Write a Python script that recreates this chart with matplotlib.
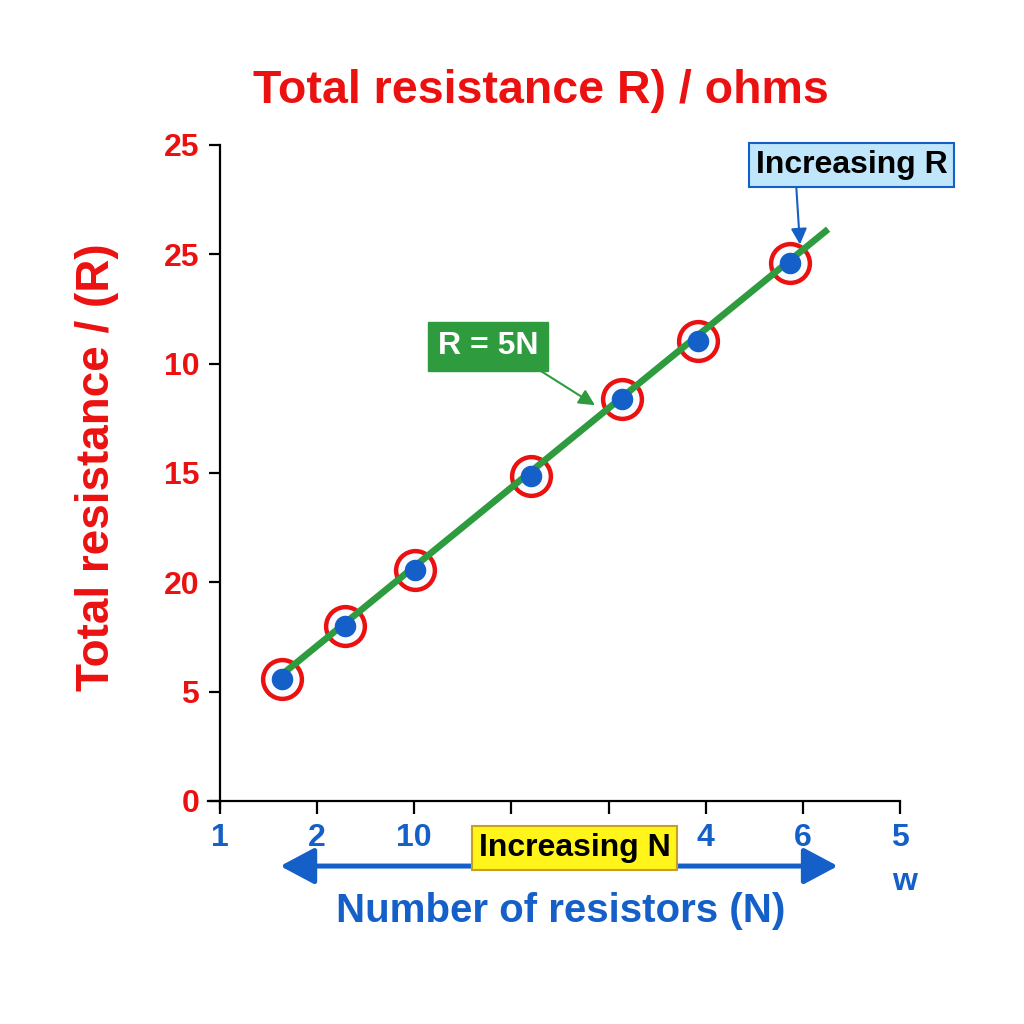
import matplotlib
matplotlib.use("Agg")
import matplotlib.pyplot as plt

# ---- data ----
n_pos = [0.64, 1.29, 2.01, 3.20, 4.14, 4.92, 5.87]
r_pos = [1.12, 1.60, 2.11, 2.97, 3.68, 4.21, 4.92]
fit_x = [0.67, 6.26]
fit_y = [1.18, 5.23]
x_ticks = [0, 1, 2, 3, 4, 5, 6, 7]
x_labels = ["1", "2", "10", "", "", "4", "6", "5"]
y_ticks = [0, 1, 2, 3, 4, 5, 6]
y_labels = ["0", "5", "20", "15", "10", "25", "25"]

RED = "#ec1111"
BLUE = "#1560c8"
GREEN = "#2e9b3f"
FONT = "Liberation Sans"

fig = plt.figure(figsize=(10.24, 10.24), dpi=100)
ax = fig.add_axes([220/1024, 1-801/1024, 680/1024, 656/1024])
ax.set_xlim(0, 7)
ax.set_ylim(0, 6)
for s in ["top", "right"]:
    ax.spines[s].set_visible(False)
for s in ["left", "bottom"]:
    ax.spines[s].set_linewidth(1.6)
    ax.spines[s].set_color("black")
ax.spines["bottom"].set_bounds(-0.12, 7)
ax.spines["left"].set_bounds(-0.06, 6)

ax.set_xticks(x_ticks)
ax.set_xticklabels(x_labels, fontsize=23, fontweight="bold", color=BLUE, family=FONT)
ax.set_yticks(y_ticks)
ax.set_yticklabels(y_labels, fontsize=23, fontweight="bold", color=RED, family=FONT)
ax.tick_params(axis="x", direction="out", length=9, width=1.6, pad=7)
ax.tick_params(axis="y", direction="out", length=8, width=1.6, pad=7)

# ring markers, fit line, dots
ax.scatter(n_pos, r_pos, s=780, facecolor="#f8fbff", edgecolor=RED, linewidths=3.2, zorder=3)
ax.plot(fit_x, fit_y, color=GREEN, lw=4.8, zorder=3.5, solid_capstyle="butt")
ax.scatter(n_pos, r_pos, s=210, color=BLUE, zorder=4)

# title and labels
fig.text(0.528, 1-91/1024, "Total resistance R) / ohms", ha="center", va="center",
         fontsize=33.5, fontweight="bold", color=RED, family=FONT)
fig.text(97/1024, 1-467/1024, "Total resistance / (R)", ha="center", va="center",
         rotation=90, fontsize=33, fontweight="bold", color=RED, family=FONT)
fig.text(561/1024, 1-911/1024, "Number of resistors (N)", ha="center", va="center",
         fontsize=29, fontweight="bold", color=BLUE, family=FONT)
ax.text(7.05, -0.74, "w", ha="center", va="center", fontsize=23, fontweight="bold",
        color=BLUE, family=FONT, clip_on=False)

# double arrow
ax.annotate("", xy=(6.36, -0.595), xytext=(0.62, -0.595), annotation_clip=False,
            arrowprops=dict(arrowstyle="<|-|>,head_length=0.75,head_width=0.4",
                            mutation_scale=28, lw=3.6, color=BLUE, shrinkA=0, shrinkB=0))
ax.text(3.65, -0.43, "Increasing N", ha="center", va="center", fontsize=23,
        fontweight="bold", color="black", family=FONT, clip_on=False, zorder=5,
        bbox=dict(boxstyle="square,pad=0.22", fc="#fff51a", ec="#c8a020", lw=1.5))

# R = 5N callout
ax.annotate("R = 5N", xy=(3.86, 3.62), xytext=(2.76, 4.16), ha="center", va="center",
            fontsize=23, fontweight="bold", color="white", family=FONT,
            bbox=dict(boxstyle="square,pad=0.3", fc=GREEN, ec=GREEN),
            arrowprops=dict(arrowstyle="-|>", color=GREEN, lw=1.5, mutation_scale=24,
                            relpos=(0.87, 0), shrinkA=0, shrinkB=0))

# Increasing R callout
ax.annotate("Increasing R", xy=(5.97, 5.09), xytext=(6.50, 5.82), ha="center", va="center",
            fontsize=23, fontweight="bold", color="black", family=FONT,
            annotation_clip=False,
            bbox=dict(boxstyle="square,pad=0.22", fc="#bfe6fb", ec=BLUE, lw=1.5),
            arrowprops=dict(arrowstyle="-|>", color=BLUE, lw=1.5, mutation_scale=24,
                            relpos=(0.21, 0), shrinkA=0, shrinkB=0))

fig.savefig("out.png", dpi=100, facecolor="white")
